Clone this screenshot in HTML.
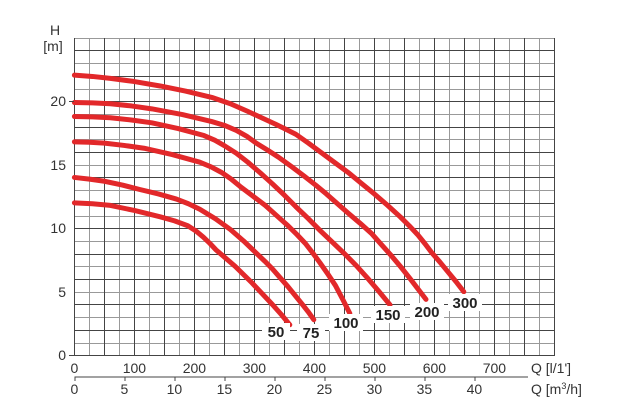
<!DOCTYPE html>
<html><head><meta charset="utf-8"><style>
html,body{margin:0;padding:0;background:#fff;}
svg{display:block;font-family:"Liberation Sans",sans-serif;}
</style></head><body>
<svg width="620" height="420" viewBox="0 0 620 420" xmlns="http://www.w3.org/2000/svg">
<g stroke-width="1" shape-rendering="crispEdges" fill="none">
<path stroke="#999" d="M89.5,38V355 M119.5,38V355 M149.5,38V355 M179.5,38V355 M209.5,38V355 M239.5,38V355 M269.5,38V355 M299.5,38V355 M329.5,38V355 M359.5,38V355 M389.5,38V355 M419.5,38V355 M449.5,38V355 M479.5,38V355 M509.5,38V355 M539.5,38V355
M74,343.5H555 M74,317.5H555 M74,292.5H555 M74,266.5H555 M74,241.5H555 M74,216.5H555 M74,190.5H555 M74,165.5H555 M74,139.5H555 M74,114.5H555 M74,89.5H555 M74,63.5H555 M74,38.5H555"/>
<path stroke="#444" d="M74.5,38V356 M104.5,38V356 M134.5,38V356 M164.5,38V356 M194.5,38V356 M224.5,38V356 M254.5,38V356 M284.5,38V356 M314.5,38V356 M344.5,38V356 M374.5,38V356 M404.5,38V356 M434.5,38V356 M464.5,38V356 M494.5,38V356 M524.5,38V356 M554.5,38V356
M74,355.5H555 M74,330.5H555 M74,304.5H555 M74,279.5H555 M74,254.5H555 M74,228.5H555 M74,203.5H555 M74,177.5H555 M74,152.5H555 M74,127.5H555 M74,101.5H555 M74,76.5H555 M74,50.5H555"/>
</g>
<g transform="translate(74.4,355.3) scale(0.6,-12.704)" fill="none" stroke="#e2282a" stroke-width="5" stroke-linecap="round" stroke-linejoin="round">
<polyline vector-effect="non-scaling-stroke" points="0,22.05 30,21.95 60,21.8 100,21.55 143,21.2 185,20.8 229,20.3 260,19.8 289,19.2 312,18.7 335,18.2 352,17.8 369,17.4 390,16.7 410,16.0 433,15.2 456,14.4 478,13.55 500,12.7 522,11.8 543,10.9 558,10.2 572,9.5 584,8.8 596,8.05 609,7.35 622,6.6 636,5.8 649,5.0"/>
<polyline vector-effect="non-scaling-stroke" points="0,19.9 30,19.87 60,19.8 95,19.63 129,19.4 180,18.95 229,18.4 250,18.1 270,17.7 287,17.25 303,16.7 322,16.15 340,15.6 362,14.85 383,14.1 402,13.4 420,12.7 438,11.95 456,11.2 476,10.4 495,9.6 512,8.7 529,7.8 545,6.9 560,6.0 573,5.2 586,4.4"/>
<polyline vector-effect="non-scaling-stroke" points="0,18.8 30,18.77 60,18.7 95,18.52 129,18.3 173,17.85 216,17.3 234,16.93 250,16.5 270,15.9 289,15.2 310,14.35 330,13.5 350,12.6 369,11.7 390,10.75 410,9.8 430,8.9 449,8.05 470,7.05 490,6.0 508,5.0 526,3.97"/>
<polyline vector-effect="non-scaling-stroke" points="0,16.8 25,16.77 50,16.7 83,16.52 116,16.3 163,15.8 209,15.2 228,14.83 245,14.4 261,13.88 276,13.3 297,12.55 318,11.8 337,11.0 356,10.2 371,9.5 385,8.8 397,8.07 409,7.3 422,6.42 435,5.5 447,4.42 459,3.3"/>
<polyline vector-effect="non-scaling-stroke" points="0,14.0 25,13.87 50,13.7 80,13.4 109,13.05 140,12.7 170,12.3 190,11.93 209,11.5 235,10.75 260,9.9 282,9.0 303,8.05 317,7.42 330,6.8 343,6.1 356,5.4 368,4.7 380,4.0 390,3.4 399,2.8"/>
<polyline vector-effect="non-scaling-stroke" points="0,12.0 30,11.93 60,11.8 100,11.4 143,10.9 167,10.58 189,10.2 203,9.77 215,9.3 226,8.8 236,8.3 252,7.65 268,7.0 282,6.35 296,5.7 313,4.85 330,4.0 345,3.2 359,2.4"/>
</g>
<g font-weight="bold" font-size="15" fill="#222" text-anchor="middle">
<rect x="262" y="323" width="28" height="17" fill="#fff"/><text x="276" y="337">50</text>
<rect x="297" y="324" width="28" height="17" fill="#fff"/><text x="311" y="338">75</text>
<rect x="329" y="314" width="34" height="17" fill="#fff"/><text x="346" y="328">100</text>
<rect x="371" y="306" width="34" height="17" fill="#fff"/><text x="388" y="320">150</text>
<rect x="410" y="303" width="34" height="17" fill="#fff"/><text x="427" y="317">200</text>
<rect x="448" y="294" width="34" height="17" fill="#fff"/><text x="465" y="308">300</text>
</g>
<g font-size="14" fill="#333">
<text x="55" y="35" text-anchor="middle">H</text>
<text x="53" y="51" text-anchor="middle">[m]</text>
<g text-anchor="end">
<text x="66" y="360">0</text><text x="66" y="297">5</text><text x="66" y="233">10</text><text x="66" y="170">15</text><text x="66" y="106">20</text>
</g>
<g text-anchor="middle">
<text x="74.4" y="373">0</text><text x="134.4" y="373">100</text><text x="194.4" y="373">200</text><text x="254.4" y="373">300</text><text x="314.4" y="373">400</text><text x="374.4" y="373">500</text><text x="434.4" y="373">600</text><text x="494.4" y="373">700</text>
<text x="74.4" y="394">0</text><text x="124.4" y="394">5</text><text x="174.4" y="394">10</text><text x="224.4" y="394">15</text><text x="274.4" y="394">20</text><text x="324.4" y="394">25</text><text x="374.4" y="394">30</text><text x="424.4" y="394">35</text><text x="474.4" y="394">40</text>
</g>
<text x="531" y="373">Q [l/1']</text>
<text x="531" y="394">Q [m<tspan font-size="9" dy="-5">3</tspan><tspan dy="5">/h]</tspan></text>
</g>
<g stroke="#444" stroke-width="1" shape-rendering="crispEdges">
<line x1="74.4" y1="377" x2="528" y2="377"/>
<line x1="74.9" y1="377" x2="74.9" y2="381"/><line x1="124.9" y1="377" x2="124.9" y2="381"/><line x1="174.9" y1="377" x2="174.9" y2="381"/><line x1="224.9" y1="377" x2="224.9" y2="381"/><line x1="274.9" y1="377" x2="274.9" y2="381"/><line x1="324.9" y1="377" x2="324.9" y2="381"/><line x1="374.9" y1="377" x2="374.9" y2="381"/><line x1="424.9" y1="377" x2="424.9" y2="381"/><line x1="474.9" y1="377" x2="474.9" y2="381"/>
<line x1="69" y1="355.5" x2="74" y2="355.5"/><line x1="69" y1="101.5" x2="74" y2="101.5"/>
</g>
</svg>
</body></html>
